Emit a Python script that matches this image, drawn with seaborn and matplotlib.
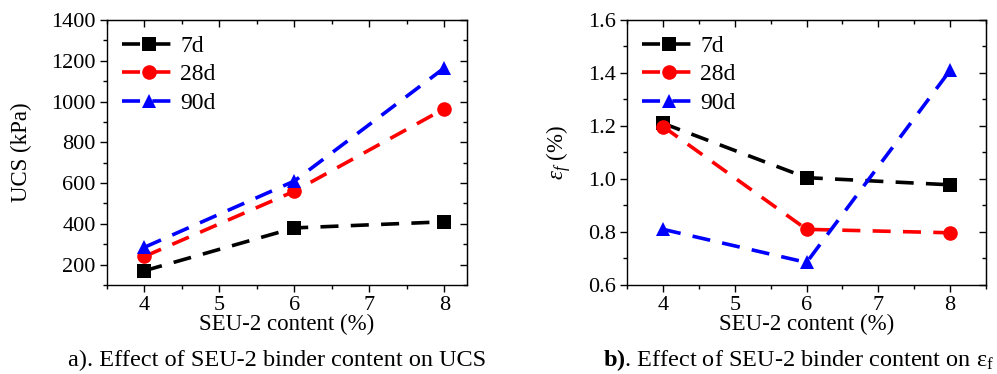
import numpy as np
import pandas as pd
import seaborn as sns
from matplotlib import pyplot as plt
from matplotlib.ticker import MultipleLocator

content = [4, 6, 8]
ages = ["7d", "28d", "90d"]

ucs_7d = [170, 380, 410]
ucs_28d = [240, 560, 965]
ucs_90d = [285, 610, 1165]

ef_7d = [1.21, 1.005, 0.978]
ef_28d = [1.198, 0.81, 0.797]
ef_90d = [0.81, 0.685, 1.41]

colors = {"7d": "black", "28d": "red", "90d": "blue"}
markers = {"7d": "s", "28d": "o", "90d": "^"}
dashes = {"7d": (5, 3.4), "28d": (5, 3.4), "90d": (5, 3.4)}

data = pd.DataFrame({
    "content": content * 3,
    "age": np.repeat(ages, len(content)),
    "ucs": ucs_7d + ucs_28d + ucs_90d,
    "ef": ef_7d + ef_28d + ef_90d,
})

sns.set_style("ticks")
plt.rcParams["font.family"] = ["Liberation Serif", "DejaVu Serif"]
plt.rcParams["mathtext.fontset"] = "custom"
plt.rcParams["mathtext.rm"] = "Liberation Serif"
plt.rcParams["mathtext.it"] = "Liberation Serif:italic"
plt.rcParams["mathtext.bf"] = "Liberation Serif:bold"
plt.rcParams["font.size"] = 16
for key in ["text.color", "axes.labelcolor", "xtick.color", "ytick.color"]:
    plt.rcParams[key] = "black"

fig = plt.figure(figsize=(9.97, 3.74), dpi=100)
ax1 = fig.add_axes([0.1073, 0.238, 0.361, 0.7086])
ax2 = fig.add_axes([0.629, 0.238, 0.360, 0.7086])


def draw(ax, y, ylim, ymaj, ymin, xlim, ylabel, ypad):
    sns.lineplot(data=data, x="content", y=y, hue="age", style="age",
                 palette=colors, markers=markers, dashes=dashes,
                 linewidth=2.6, markersize=10.5, markeredgewidth=0, ax=ax)
    ax.set_xlim(*xlim)
    ax.set_ylim(*ylim)
    ax.xaxis.set_major_locator(MultipleLocator(1))
    ax.xaxis.set_minor_locator(MultipleLocator(0.5))
    ax.yaxis.set_major_locator(MultipleLocator(ymaj))
    ax.yaxis.set_minor_locator(MultipleLocator(ymin))
    ax.tick_params(which="major", direction="out", length=5, width=1, labelsize=16, pad=3)
    ax.tick_params(which="minor", direction="out", length=3, width=1)
    for s in ax.spines.values():
        s.set_visible(True)
        s.set_linewidth(1)
        s.set_color("black")
    top = ax.secondary_xaxis("top")
    top.xaxis.set_major_locator(MultipleLocator(1))
    top.xaxis.set_minor_locator(MultipleLocator(0.5))
    top.tick_params(which="both", direction="in", labeltop=False, width=1)
    top.tick_params(which="major", length=5)
    top.tick_params(which="minor", length=3)
    right = ax.secondary_yaxis("right")
    right.yaxis.set_major_locator(MultipleLocator(ymaj))
    right.yaxis.set_minor_locator(MultipleLocator(ymin))
    right.tick_params(which="both", direction="in", labelright=False, width=1)
    right.tick_params(which="major", length=5)
    right.tick_params(which="minor", length=3)
    ax.set_xlabel("SEU-2 content (%)", fontsize=16.5, labelpad=-1)
    ax.set_ylabel(ylabel, fontsize=16.5, labelpad=ypad)
    handles, labels = ax.get_legend_handles_labels()
    ax.legend(handles, labels, loc="upper left", frameon=False, fontsize=17,
              handlelength=2.25, handletextpad=0.2, labelspacing=0.3,
              borderaxespad=0.3, borderpad=0.35)


draw(ax1, "ucs", (100, 1400), 200, 100, (3.5, 8.3), "UCS (kPa)", 14)
draw(ax2, "ef", (0.6, 1.6), 0.2, 0.1, (3.5, 8.5), r"$\mathit{\varepsilon_f}$ (%)", 11)
ax2.yaxis.set_major_formatter(plt.FormatStrFormatter("%.1f"))

fig.text(0.278, 0.022, "a). Effect of SEU-2 binder content on UCS", ha="center", fontsize=17.5)
fig.text(0.801, 0.022, r"$\mathbf{b)}$. Effect of SEU-2 binder content on ε$_\mathrm{f}$",
         ha="center", fontsize=17.5)

fig.savefig("out.png", dpi=100)
